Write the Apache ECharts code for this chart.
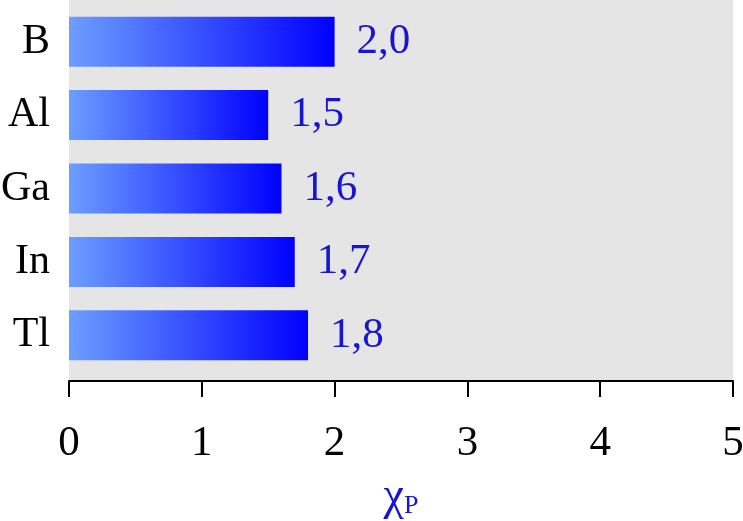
<!DOCTYPE html>
<html><head><meta charset="utf-8">
<script src="https://cdn.jsdelivr.net/npm/echarts@6/dist/echarts.min.js"></script>
<style>html,body{margin:0;padding:0;background:#fff}#c{width:743px;height:521px}</style>
</head><body><div id="c"></div>
<script>
const categories = ['B', 'Al', 'Ga', 'In', 'Tl'];
const values = [2.0, 1.5, 1.6, 1.7, 1.8];
const valueLabels = ['2,0', '1,5', '1,6', '1,7', '1,8'];
const xTicks = [0, 1, 2, 3, 4, 5];

const FONT = 'Liberation Serif';
const BLUE_TXT = '#1515d2';
const chart = echarts.init(document.getElementById('c'), null, {renderer: 'canvas'});
chart.setOption({
  animation: false,
  backgroundColor: '#ffffff',
  grid: [
    {left: 69, right: 10, top: 0, bottom: 140, show: true, backgroundColor: '#e5e5e5', borderWidth: 0, outerBoundsMode: 'none', containLabel: false},
    {left: 69, right: 10, top: 5, bottom: 149, outerBoundsMode: 'none', containLabel: false}
  ],
  xAxis: [
    {
      type: 'value', gridIndex: 0, min: xTicks[0], max: xTicks[xTicks.length - 1], interval: 1,
      axisLine: {show: true, lineStyle: {color: '#000', width: 2}},
      axisTick: {show: true, length: 16, lineStyle: {color: '#000', width: 2}},
      axisLabel: {color: '#000', fontFamily: FONT, fontSize: 43, margin: 41},
      splitLine: {show: false},
      name: '{a|χ}{b|P}', nameLocation: 'middle', nameGap: 93,
      nameTextStyle: {
        rich: {
          a: {fontFamily: FONT, fontSize: 46, color: BLUE_TXT},
          b: {fontFamily: FONT, fontSize: 26, color: BLUE_TXT, padding: [18, 0, 0, 0]}
        }
      }
    },
    {type: 'value', gridIndex: 1, min: 0, max: 5, show: false}
  ],
  yAxis: [
    {type: 'category', gridIndex: 0, data: categories, show: false},
    {
      type: 'category', gridIndex: 1, data: categories, inverse: true,
      axisLine: {show: false}, axisTick: {show: false},
      axisLabel: {color: '#000', fontFamily: FONT, fontSize: 42, margin: 19}
    }
  ],
  series: [{
    type: 'bar', xAxisIndex: 1, yAxisIndex: 1,
    data: values, barWidth: 50,
    itemStyle: {
      color: new echarts.graphic.LinearGradient(0, 0, 1, 0, [
        {offset: 0, color: '#6c9eff'},
        {offset: 1, color: '#0000ff'}
      ])
    },
    label: {
      show: true, position: 'right', distance: 22,
      fontFamily: FONT, fontSize: 43, color: BLUE_TXT,
      formatter: p => valueLabels[p.dataIndex]
    }
  }]
});
</script></body></html>
